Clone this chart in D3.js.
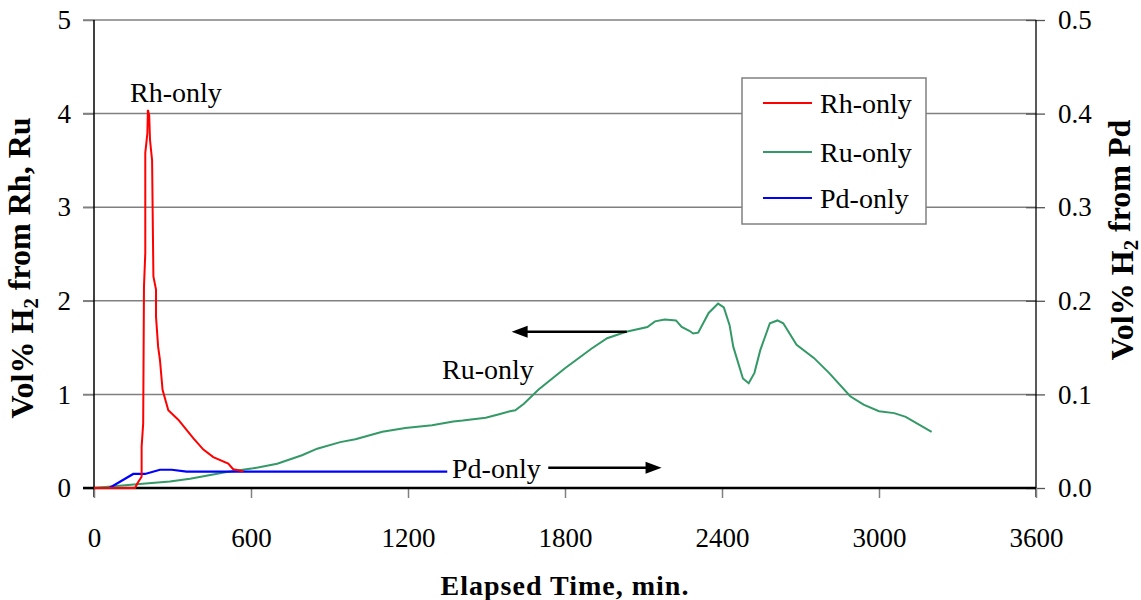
<!DOCTYPE html>
<html><head><meta charset="utf-8">
<script src="https://cdn.jsdelivr.net/npm/d3@7"></script>
<style>body{margin:0;background:#fff}svg{display:block}
svg text{font-family:"Liberation Serif",Tinos,"Times New Roman",Times,serif}</style>
</head><body><svg id="c" width="1141" height="600"></svg>
<script>
// ---- data ----
const rhTime = [0,157,166,182,182,188,191,196,196,204,206,211,214,222,227,237,237,245,252,262,284,322,380,418,456,513,532,571];
const rhVal  = [0,0,0.05,0.12,0.44,0.69,2.15,2.51,3.58,3.79,4.04,3.98,3.72,3.50,2.26,2.12,1.83,1.51,1.37,1.05,0.83,0.73,0.53,0.41,0.33,0.26,0.20,0.18];
const ruTime = [0,163,290,367,507,609,700,795,853,941,999,1102,1190,1292,1373,1409,1497,1552,1590,1610,1643,1698,1800,1902,1961,2034,2115,2144,2181,2224,2246,2275,2290,2309,2349,2385,2407,2429,2443,2480,2502,2524,2546,2583,2612,2634,2685,2751,2809,2890,2941,3000,3058,3102,3201];
const ruVal  = [0,0.04,0.07,0.10,0.17,0.21,0.26,0.35,0.42,0.49,0.52,0.60,0.64,0.67,0.71,0.72,0.75,0.79,0.82,0.83,0.90,1.05,1.28,1.49,1.60,1.67,1.72,1.78,1.80,1.79,1.72,1.68,1.65,1.66,1.87,1.97,1.93,1.74,1.51,1.17,1.12,1.23,1.47,1.76,1.79,1.76,1.53,1.39,1.23,0.98,0.89,0.82,0.80,0.76,0.60];
const pdTime = [0,59,150,195,252,297,354,1350];
const pdVal  = [0,0,0.015,0.015,0.0195,0.0195,0.0175,0.0175];
const xTicks = [0,600,1200,1800,2400,3000,3600];
const yLeftTicks = [0,1,2,3,4,5];
const yRightTicks = [0,0.1,0.2,0.3,0.4,0.5];
const seriesNames = ["Rh-only","Ru-only","Pd-only"];
const seriesColors = ["#ff0000","#339966","#0000ff"];

// ---- layout ----
const FONT = '"Liberation Serif",Tinos,"Times New Roman",Times,serif';
const L=94, R=1036, T=20, B=488;
const svg = d3.select("#c");
const x = d3.scaleLinear().domain([0,3600]).range([L,R]);
const yL = d3.scaleLinear().domain([0,5]).range([B,T]);
const yR = d3.scaleLinear().domain([0,0.5]).range([B,T]);

// gridlines
svg.append("g").selectAll("line").data(yLeftTicks.filter(d=>d>0)).join("line")
  .attr("x1",L-11).attr("x2",R).attr("y1",d=>yL(d)).attr("y2",d=>yL(d))
  .attr("stroke","#808080").attr("stroke-width",1.5);

// left axis
const gl = svg.append("g").attr("transform",`translate(${L},0)`)
  .call(d3.axisLeft(yL).tickValues(yLeftTicks).tickSize(11).tickPadding(12).tickFormat(d3.format("d")));
gl.attr("font-family",FONT).attr("font-size",27);
gl.select(".domain").remove();
gl.selectAll(".tick line").attr("stroke","#808080").attr("stroke-width",1.5);
gl.selectAll("text").attr("fill","#000");
svg.append("line").attr("x1",L).attr("x2",L).attr("y1",T).attr("y2",B+9).attr("stroke","#000").attr("stroke-width",1.5);

// right axis
const gr = svg.append("g").attr("transform",`translate(${R},0)`)
  .call(d3.axisRight(yR).tickValues(yRightTicks).tickSize(9).tickPadding(13).tickFormat(d3.format(".1f")));
gr.attr("font-family",FONT).attr("font-size",27);
gr.select(".domain").remove();
gr.selectAll(".tick line").attr("x1",-10).attr("stroke","#555").attr("stroke-width",1.3);
gr.selectAll("text").attr("fill","#000");
svg.append("line").attr("x1",R).attr("x2",R).attr("y1",T).attr("y2",B+9).attr("stroke","#000").attr("stroke-width",1.3);

// bottom axis
const gb = svg.append("g").attr("transform",`translate(0,${B})`)
  .call(d3.axisBottom(x).tickValues(xTicks).tickSize(10).tickPadding(30).tickFormat(d3.format("d")));
gb.attr("font-family",FONT).attr("font-size",27);
gb.select(".domain").remove();
gb.selectAll(".tick line").attr("stroke","#808080").attr("stroke-width",1.5);
gb.selectAll("text").attr("fill","#000");
svg.append("line").attr("x1",L-11).attr("x2",R).attr("y1",B).attr("y2",B).attr("stroke","#000").attr("stroke-width",2.5);

// series
const lineL = d3.line().x(d=>x(d[0])).y(d=>yL(d[1]));
const lineR = d3.line().x(d=>x(d[0])).y(d=>yR(d[1]));
svg.append("path").datum(d3.zip(ruTime,ruVal)).attr("d",lineL).attr("fill","none").attr("stroke",seriesColors[1]).attr("stroke-width",2);
svg.append("path").datum(d3.zip(pdTime,pdVal)).attr("d",lineR).attr("fill","none").attr("stroke",seriesColors[2]).attr("stroke-width",2.2);
svg.append("path").datum(d3.zip(rhTime,rhVal)).attr("d",lineL).attr("fill","none").attr("stroke",seriesColors[0]).attr("stroke-width",2);

// annotations
function arrow(t1,t2,v){
  const y=yL(v), x1=x(t1), x2=x(t2), dir = x2>x1?1:-1;
  svg.append("line").attr("x1",x1).attr("x2",x2-dir*14).attr("y1",y).attr("y2",y).attr("stroke","#000").attr("stroke-width",2.5);
  svg.append("path").attr("d",`M${x2},${y} L${x2-dir*16},${y-6} L${x2-dir*16},${y+6} Z`).attr("fill","#000");
}
arrow(2036,1596,1.67);
arrow(1736,2169,0.217);
const ann = svg.append("g").attr("font-family",FONT).attr("font-size",28);
ann.append("text").attr("x",130).attr("y",102).text("Rh-only");
ann.append("text").attr("x",442).attr("y",379).text("Ru-only");
ann.append("text").attr("x",452).attr("y",478).text("Pd-only");

// legend
svg.append("rect").attr("x",742).attr("y",78).attr("width",184).attr("height",146).attr("fill","#fff").attr("stroke","#808080").attr("stroke-width",1.5);
const ly=[103,152,198];
seriesNames.forEach((n,i)=>{
  svg.append("line").attr("x1",763).attr("x2",812).attr("y1",ly[i]).attr("y2",ly[i]).attr("stroke",seriesColors[i]).attr("stroke-width",2);
  svg.append("text").attr("x",820).attr("y",ly[i]).attr("dy","0.35em").attr("font-size",28).attr("font-family",FONT).text(n);
});

// axis titles
svg.append("text").attr("x",565).attr("y",595).attr("text-anchor","middle").attr("font-family",FONT).attr("font-size",28).attr("font-weight","bold").attr("letter-spacing",1).text("Elapsed Time, min.");
function vtitle(cx,cy,size,pre,post){
  const t=svg.append("text").attr("transform",`translate(${cx},${cy}) rotate(-90)`).attr("text-anchor","middle")
    .attr("font-family",FONT).attr("font-size",size).attr("font-weight","bold").attr("dy","0.35em");
  t.append("tspan").text(pre);
  t.append("tspan").attr("font-size",size*0.65).attr("dy","0.25em").text("2");
  t.append("tspan").attr("dy","-0.25em").text(post);
}
vtitle(22,268,32,"Vol% H"," from Rh, Ru");
vtitle(1122,240,32,"Vol% H"," from Pd");
</script></body></html>
